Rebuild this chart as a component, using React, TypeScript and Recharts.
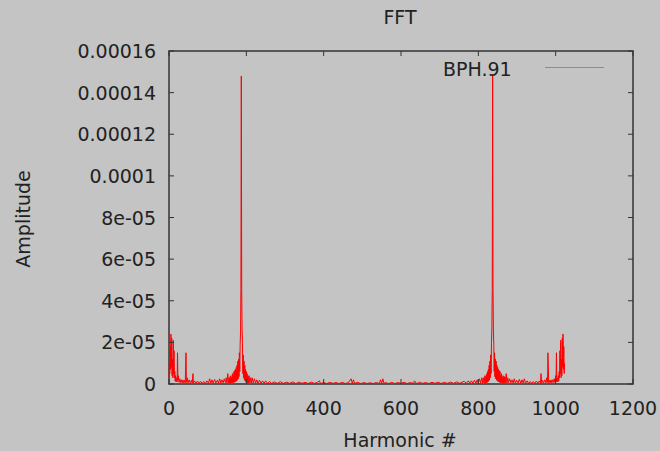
import { LineChart, Line, XAxis, YAxis, ReferenceArea } from "recharts";

// amplitudes are in units of 1e-6
const lowBand: [number, number][] = [
  [0, 3], [1, 10], [2, 5], [3, 18], [4, 7], [5, 24], [6, 8], [7, 22], [8, 4], [9, 12],
  [10, 3], [11, 21], [12, 5], [13, 16], [14, 3], [15, 6], [16, 1.5], [17, 4], [18, 1],
  [20, 3], [21, 1], [22, 15], [23, 2], [24, 4], [26, 0.8], [28, 2.5], [30, 0.7], [32, 2],
  [34, 0.6], [36, 2], [38, 0.6], [40, 1.8], [42, 0.5], [44, 15], [45, 0.8], [47, 3],
  [49, 0.5], [52, 2], [55, 0.6], [58, 1.8], [60, 0.5], [62, 5], [63, 0.4], [66, 1.5],
  [70, 0.4], [74, 1.4], [78, 0.4], [82, 1.2], [86, 0.3], [90, 1.2], [94, 0.3], [98, 1.5],
  [102, 0.4], [105, 2.5], [108, 0.5], [111, 2], [114, 0.4], [118, 2.2], [121, 0.5],
  [125, 1.8], [128, 0.4], [131, 2.5], [134, 0.5], [137, 2], [140, 0.6], [143, 2.5],
  [146, 0.7], [148, 3],
];

const peakOne: [number, number][] = [
  [150, 0.5], [152, 5], [154, 0.6], [156, 3], [157, 0.5], [158, 3.5], [159, 0.6], [160, 4],
  [161, 0.5], [162, 3], [163, 0.7], [164, 5], [165, 0.6], [166, 4], [167, 0.8], [168, 6],
  [169, 0.8], [170, 6.5], [171, 1], [172, 7], [173, 1.2], [174, 8], [175, 1.5], [176, 9],
  [177, 2], [178, 11], [179, 2.5], [180, 12], [181, 3.5], [182, 15], [183, 6], [184, 19],
  [185, 25], [186, 46], [187, 148], [188, 45], [189, 27], [190, 20], [191, 5], [192, 14],
  [193, 3], [194, 11], [195, 2], [196, 9], [197, 1.5], [198, 7], [199, 1], [200, 6],
  [201, 0.8], [202, 5], [203, 0.6], [204, 4], [205, 0.5], [207, 4], [209, 0.5], [211, 3],
  [213, 0.5], [215, 3], [218, 0.5], [221, 2.5], [224, 0.4], [227, 2], [230, 0.4],
  [234, 1.8], [238, 0.4], [242, 1.5], [246, 0.4], [250, 1.5], [255, 0.3], [260, 1.2],
];

const midBand: [number, number][] = [
  [265, 0.3], [272, 1], [280, 0.3], [288, 1.1], [296, 0.3], [304, 0.9], [312, 0.3],
  [320, 1], [328, 0.2], [336, 0.9], [344, 0.3], [352, 0.8], [360, 0.2], [368, 0.9],
  [376, 0.3], [384, 0.8], [389, 1.5], [392, 0.2], [400, 0.7], [408, 0.2], [416, 0.8],
  [424, 0.3], [432, 0.7], [440, 0.2], [448, 0.8], [456, 0.2], [464, 0.7], [471, 2.5],
  [474, 0.3], [477, 2], [480, 0.3], [488, 0.8], [496, 0.2], [504, 0.7], [512, 0.2],
  [520, 0.6], [528, 0.2], [536, 0.7], [544, 0.2], [547, 2], [550, 0.3], [553, 2.5],
  [556, 0.3], [560, 0.7], [568, 0.2], [576, 0.8], [584, 0.2], [592, 0.7], [600, 0.3],
  [608, 0.8], [616, 0.2], [624, 0.7], [632, 0.3], [635, 1.5], [640, 0.2], [648, 0.8],
  [656, 0.3], [664, 0.7], [672, 0.2], [680, 0.8], [688, 0.3], [696, 0.9], [704, 0.2],
  [712, 0.8], [720, 0.3], [728, 0.9], [736, 0.3], [744, 1], [752, 0.3], [760, 1.1],
];

const peakTwo: [number, number][] = [
  [764, 1.2], [769, 0.3], [774, 1.5], [778, 0.4], [782, 1.5], [786, 0.4], [790, 1.8],
  [794, 0.4], [797, 2], [800, 0.4], [803, 2.5], [806, 0.5], [809, 3], [811, 0.5], [813, 3],
  [815, 0.5], [817, 4], [819, 0.5], [820, 4], [821, 0.6], [822, 5], [823, 0.8], [824, 6],
  [825, 1], [826, 7], [827, 1.5], [828, 9], [829, 2], [830, 11], [831, 3], [832, 14],
  [833, 5], [834, 20], [835, 27], [836, 45], [837, 148], [838, 46], [839, 25], [840, 19],
  [841, 6], [842, 15], [843, 3.5], [844, 12], [845, 2.5], [846, 11], [847, 2], [848, 9],
  [849, 1.5], [850, 8], [851, 1.2], [852, 7], [853, 1], [854, 6.5], [855, 0.8], [856, 6],
  [857, 0.8], [858, 4], [859, 0.6], [860, 5], [861, 0.7], [862, 3], [863, 0.5], [864, 4],
  [865, 0.6], [866, 3.5], [867, 0.5], [868, 3.5], [870, 0.6], [872, 5], [874, 0.5],
];

const highBand: [number, number][] = [
  [876, 3], [878, 0.7], [881, 2.5], [884, 0.6], [887, 2], [890, 0.5], [893, 2.5],
  [896, 0.4], [899, 1.8], [903, 0.5], [906, 2.2], [910, 0.4], [913, 2], [916, 0.5],
  [919, 2.5], [922, 0.4], [926, 1.5], [930, 0.3], [934, 1.2], [938, 0.3], [942, 1.2],
  [946, 0.4], [950, 1.4], [954, 0.4], [958, 1.5], [961, 0.4], [962, 5], [964, 0.5],
  [966, 1.8], [969, 0.6], [972, 2], [975, 0.5], [977, 3], [979, 0.8], [980, 15],
  [982, 0.5], [984, 1.8], [986, 0.6], [988, 2], [990, 0.6], [992, 2], [994, 0.7],
  [996, 2.5], [998, 0.8], [1000, 4], [1001, 2], [1002, 15], [1003, 1], [1004, 3],
  [1006, 1], [1007, 4], [1008, 1.5], [1009, 6], [1010, 3], [1011, 16], [1012, 5],
  [1013, 21], [1014, 3], [1015, 12], [1016, 4], [1017, 22], [1018, 8], [1019, 24],
  [1020, 7], [1021, 18], [1022, 5], [1023, 10],
];

const xTicks = [0, 200, 400, 600, 800, 1000, 1200];
const yTicks = [0, 2e-5, 4e-5, 6e-5, 8e-5, 1e-4, 1.2e-4, 1.4e-4, 1.6e-4];
const yTickLabels = ["0", "2e-05", "4e-05", "6e-05", "8e-05", "0.0001", "0.00012", "0.00014", "0.00016"];

const rows = [...lowBand, ...peakOne, ...midBand, ...peakTwo, ...highBand].map(([h, a]) => ({
  h,
  amp: a * 1e-6,
}));

const W = 660;
const H = 451;
const margin = { top: 51, right: 27, bottom: 0, left: 0 };
const plotTop = margin.top;
const plotRight = W - margin.right;
const tickLen = 5;

const font = "'DejaVu Sans', sans-serif";
const ink = "#222";
const border = "#333";

// gnuplot style: inward ticks, mirrored on the opposite side
const XTick = (props: any) => {
  const { x, y, payload } = props;
  return (
    <g>
      <line x1={x} x2={x} y1={y} y2={y - tickLen} stroke={border} strokeWidth={1} />
      <line x1={x} x2={x} y1={plotTop} y2={plotTop + tickLen} stroke={border} strokeWidth={1} />
      <text x={x} y={y + 31} textAnchor="middle" fontSize={19} fontFamily={font} fill={ink}>
        {payload.value}
      </text>
    </g>
  );
};

const YTick = (props: any) => {
  const { x, y, index } = props;
  return (
    <g>
      <line x1={x} x2={x + tickLen} y1={y} y2={y} stroke={border} strokeWidth={1} />
      <line x1={plotRight} x2={plotRight - tickLen} y1={y} y2={y} stroke={border} strokeWidth={1} />
      <text x={x - 13} y={y + 7} textAnchor="end" fontSize={19} fontFamily={font} fill={ink}>
        {yTickLabels[index]}
      </text>
    </g>
  );
};

export default function App() {
  return (
    <div
      style={{
        position: "absolute",
        left: 0,
        top: 0,
        width: W,
        height: H,
        background: "#c4c4c4",
        fontFamily: font,
        color: ink,
        overflow: "hidden",
      }}
    >
      <LineChart width={W} height={H} data={rows} margin={margin}>
        <XAxis
          dataKey="h"
          type="number"
          domain={[0, 1200]}
          ticks={xTicks}
          height={67}
          tickSize={0}
          tickMargin={0}
          tickLine={false}
          axisLine={false}
          tick={<XTick />}
        />
        <YAxis
          type="number"
          domain={[0, 0.00016]}
          ticks={yTicks}
          width={169}
          tickSize={0}
          tickMargin={0}
          tickLine={false}
          axisLine={false}
          tick={<YTick />}
        />
        <ReferenceArea
          x1={0}
          x2={1200}
          y1={0}
          y2={0.00016}
          fill="none"
          fillOpacity={0}
          stroke={border}
          strokeWidth={1.5}
          ifOverflow="visible"
        />
        <Line
          type="linear"
          dataKey="amp"
          stroke="#ff0000"
          strokeWidth={1}
          dot={false}
          isAnimationActive={false}
        />
      </LineChart>

      <div style={{ position: "absolute", left: 300, top: 7, width: 200, textAlign: "center", fontSize: 19, lineHeight: "20px" }}>
        FFT
      </div>
      <div style={{ position: "absolute", left: 300, top: 430, width: 200, textAlign: "center", fontSize: 19, lineHeight: "20px" }}>
        Harmonic #
      </div>
      <div
        style={{
          position: "absolute",
          left: 23 - 70,
          top: 219 - 10,
          width: 140,
          textAlign: "center",
          fontSize: 19,
          lineHeight: "20px",
          transform: "rotate(-90deg)",
        }}
      >
        Amplitude
      </div>
      <div style={{ position: "absolute", left: 443, top: 59, fontSize: 19, lineHeight: "20px" }}>BPH.91</div>
      <div style={{ position: "absolute", left: 545, top: 67, width: 59, height: 1, background: "#ff5a5a" }} />
    </div>
  );
}
